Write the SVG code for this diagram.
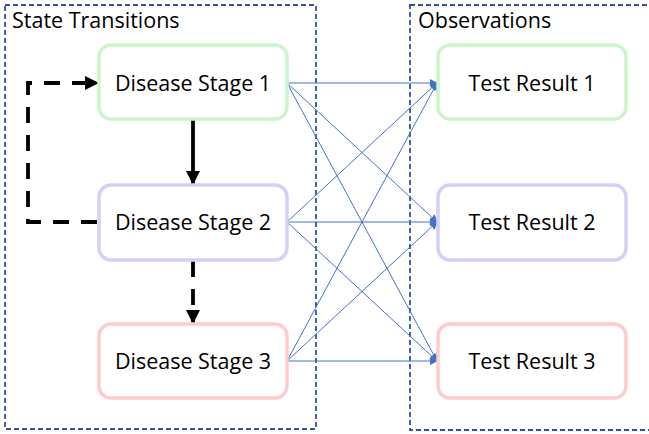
<svg xmlns="http://www.w3.org/2000/svg" width="649" height="434" viewBox="0 0 649 434">
<style>
.cont{fill:none;stroke:#2f5597;stroke-width:1.8;stroke-dasharray:5 3}
.box{fill:#fff;stroke-width:3.5}
.g{stroke:#ccf5cc}.p{stroke:#d6cff9}.r{stroke:#ffcccc}
.t{font-family:"Open Sans","Liberation Sans",sans-serif;font-size:21.5px;fill:#000}
.lbl{font-family:"Open Sans","Liberation Sans",sans-serif;font-size:21.5px;fill:#000}
.obs{stroke:#4472c4;stroke-width:1;fill:none}
.blk{stroke:#000;stroke-width:3.8;fill:none}
.dash{stroke-dasharray:16 12}
</style>
<defs>
<marker id="ab" markerWidth="8" markerHeight="8" refX="7" refY="4" orient="auto" markerUnits="userSpaceOnUse">
<path d="M0,0 L8,4 L0,8 z" fill="#4472c4"/>
</marker>
<marker id="ak" markerWidth="14" markerHeight="14" refX="13" refY="7" orient="auto" markerUnits="userSpaceOnUse">
<path d="M0,0 L14,7 L0,14 z" fill="#000"/>
</marker>
</defs>
<rect class="cont" x="5" y="5" width="311" height="424"/>
<text class="lbl" x="12" y="28">State Transitions</text>
<rect class="cont" x="410" y="5" width="245" height="425"/>
<text class="lbl" x="418" y="28">Observations</text>
<g id="connectors">
<line class="obs" x1="287" y1="83" x2="437" y2="83" marker-end="url(#ab)"/>
<line class="obs" x1="287" y1="83" x2="437" y2="222" marker-end="url(#ab)"/>
<line class="obs" x1="287" y1="83" x2="437" y2="361" marker-end="url(#ab)"/>
<line class="obs" x1="287" y1="222" x2="437" y2="83" marker-end="url(#ab)"/>
<line class="obs" x1="287" y1="222" x2="437" y2="222" marker-end="url(#ab)"/>
<line class="obs" x1="287" y1="222" x2="437" y2="361" marker-end="url(#ab)"/>
<line class="obs" x1="287" y1="361" x2="437" y2="83" marker-end="url(#ab)"/>
<line class="obs" x1="287" y1="361" x2="437" y2="222" marker-end="url(#ab)"/>
<line class="obs" x1="287" y1="361" x2="437" y2="361" marker-end="url(#ab)"/>
<line class="blk" x1="193" y1="120" x2="193" y2="184" marker-end="url(#ak)"/>
<line class="blk dash" x1="193" y1="261" x2="193" y2="323" marker-end="url(#ak)"/>
<path class="blk dash" d="M97,222 H28 V83 H98" marker-end="url(#ak)"/>
</g>
<g id="stage1"><rect class="box g" x="99" y="45" width="188" height="74" rx="12"/><text class="t" x="193" y="91" text-anchor="middle">Disease Stage 1</text></g>
<g id="stage2"><rect class="box p" x="99" y="185" width="188" height="75" rx="12"/><text class="t" x="193" y="230" text-anchor="middle">Disease Stage 2</text></g>
<g id="stage3"><rect class="box r" x="99" y="324" width="188" height="74" rx="12"/><text class="t" x="193" y="369" text-anchor="middle">Disease Stage 3</text></g>
<g id="test1"><rect class="box g" x="438" y="45" width="188" height="74" rx="12"/><text class="t" x="532" y="91" text-anchor="middle">Test Result 1</text></g>
<g id="test2"><rect class="box p" x="438" y="185" width="188" height="75" rx="12"/><text class="t" x="532" y="230" text-anchor="middle">Test Result 2</text></g>
<g id="test3"><rect class="box r" x="438" y="324" width="188" height="74" rx="12"/><text class="t" x="532" y="369" text-anchor="middle">Test Result 3</text></g>
</svg>
